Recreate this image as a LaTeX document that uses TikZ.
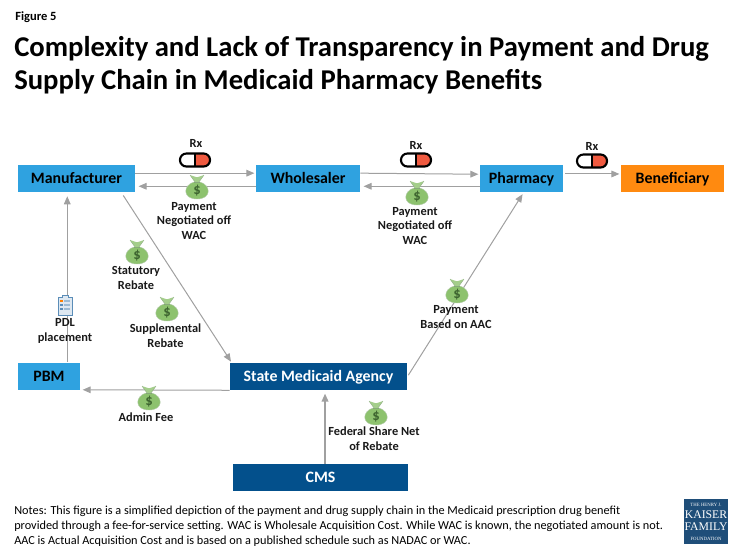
\documentclass[tikz,border=0pt]{standalone}
\usepackage{fontspec}
\setmainfont{Carlito}
\newfontfamily\logofont{Liberation Serif}
\usetikzlibrary{arrows.meta}
\definecolor{cyanbox}{HTML}{2FA2E0}
\definecolor{navybox}{HTML}{03508C}
\definecolor{orangebox}{HTML}{FF8A10}
\definecolor{linegray}{HTML}{A0A0A0}
\definecolor{baggreen}{HTML}{8DC26E}
\definecolor{bagdark}{HTML}{4E7F3C}
\definecolor{pillred}{HTML}{F05A40}
\definecolor{docblue}{HTML}{5B8DB8}
\definecolor{logonavy}{HTML}{1F4E79}
\tikzset{
  px/.style={x=0.75pt,y=-0.75pt},
  flowbox/.style n args={3}{rectangle,fill=#1,minimum width=#2*0.75pt,minimum height=#3*0.75pt,inner sep=0pt,anchor=center,text height=9pt,text depth=0.8pt,font=\fontsize{11.9}{13}\selectfont\bfseries},
  link/.style={draw=linegray,line width=0.75pt,-{Triangle[length=6pt,width=5pt]},shorten >=1pt},
  label text/.style={align=center,inner sep=0pt,font=\fontsize{9.3}{11.2}\selectfont\bfseries,text=black!90},
  pics/moneybag/.style={code={
    \fill[baggreen,draw=bagdark!40,line width=0.3pt] (0,13) .. controls (-15,13) and (-14,-1) .. (-3,-4) -- (3,-4) .. controls (14,-1) and (15,13) .. (0,13) -- cycle;
    \draw[bagdark!70,line width=0.7pt] (-3,-4) -- (3,-4);
    \fill[baggreen!80!white] (-2,-4) -- (-7,-11) -- (-1,-9) -- (1,-9) -- (7,-11) -- (2,-4) -- cycle;
    \draw[bagdark!60,line width=0.35pt] (-2,-4) -- (-7,-11) (2,-4) -- (7,-11);
    \node[inner sep=0pt,text=bagdark!80!black,font=\fontsize{11}{11}\selectfont\bfseries] at (0,5) {\$};
  }},
  pics/pill/.style={code={
    \fill[white,rounded corners=4.5pt] (-15,-6.5) rectangle (0,6.5);
    \fill[pillred,rounded corners=4.5pt] (-2,-6.5) rectangle (15,6.5);
    \fill[white] (-3,-5) rectangle (0,5);
    \draw[black,line width=1.6pt,rounded corners=4.8pt] (-15,-6.5) rectangle (15,6.5);
    \draw[black,line width=0.8pt] (0,-6.5) -- (0,6.5);
  }},
  pics/docicon/.style={code={
    \fill[docblue!20,draw=docblue,line width=0.7pt] (-7,-8) -- (-3,-8) -- (-3,-10) -- (3,-10) -- (3,-8) -- (7,-8) -- (7,10) -- (-7,10) -- cycle;
    \foreach \yy in {-4,0,4}{
      \fill[docblue] (-5,\yy-1) rectangle (-2,\yy+1);
      \fill[docblue!60] (-1,\yy-1) rectangle (5,\yy+1);
    }
    \fill[orange] (-5,-5) rectangle (-2,-3);
  }},
}
\begin{document}
\begin{tikzpicture}[px]
\useasboundingbox (0,0) rectangle (735,551);
% title
\node[anchor=west,inner sep=0pt,font=\fontsize{9.4}{11}\selectfont\bfseries] (figno) at (15,17) {Figure 5};
\node[anchor=north west,inner sep=0pt,align=left,font=\fontsize{21.5}{25}\selectfont\bfseries] (title) at (14,36) {Complexity and Lack of Transparency in Payment and Drug\\Supply Chain in Medicaid Pharmacy Benefits};
% boxes
\node[flowbox={cyanbox}{117}{27}] (man) at (76.5,178.5) {Manufacturer};
\node[flowbox={cyanbox}{104}{27}] (who) at (308,178.5) {Wholesaler};
\node[flowbox={cyanbox}{83}{27}] (pha) at (521.5,178.5) {Pharmacy};
\node[flowbox={orangebox}{103}{27}] (ben) at (672.5,178.5) {Beneficiary};
\node[flowbox={cyanbox}{62}{27}] (pbm) at (49,376) {PBM};
\node[flowbox={navybox}{177}{27},text=white] (sma) at (318.5,376.5) {State Medicaid Agency};
\node[flowbox={navybox}{175}{27},text=white] (cms) at (320.5,477.5) {CMS};
% connectors
\draw[link] ([yshift=4pt]man.east) -- ([yshift=4pt]who.west);
\draw[link] ([yshift=4.5pt]who.south west) -- ([yshift=4.5pt,xshift=1.5pt]man.south east);
\draw[link] ([yshift=4pt]who.east) -- ([yshift=3.2pt]pha.west);
\draw[link] ([yshift=4.5pt]pha.south west) -- ([yshift=4.5pt,xshift=1.5pt]who.south east);
\draw[link] ([xshift=1.5pt,yshift=3.4pt]pha.east) -- ([yshift=3.4pt]ben.west);
\draw[link] ([xshift=-9.75pt]pbm.north east) -- ([xshift=-51pt,yshift=-2pt]man.south east);
\draw[link] ([xshift=-9pt,yshift=-2.4pt]man.south east) -- ([xshift=1.5pt]sma.north west);
\draw[link] (sma.south west) -- ([xshift=0.8pt]pbm.south east);
\draw[link] ([xshift=0.8pt,yshift=1pt]sma.east) -- ([xshift=-30pt,yshift=-0.6pt]pha.south east);
\draw[link,line width=1.2pt] ([xshift=3.4pt]cms.north) -- ([xshift=4.9pt,yshift=-1.5pt]sma.south);
% icons
\pic at (195,160) {pill};
\pic at (416,160) {pill};
\pic at (592,161) {pill};
\pic at (197,186) {moneybag};
\pic at (417,192) {moneybag};
\pic at (137,251) {moneybag};
\pic at (167,308) {moneybag};
\pic at (149,397) {moneybag};
\pic at (457,290) {moneybag};
\pic at (376,412) {moneybag};
\pic at (65,305) {docicon};
% labels
\node[label text] (rx1) at (196,143) {Rx};
\node[label text] (rx2) at (416,145) {Rx};
\node[label text] (rx3) at (592,146) {Rx};
\node[label text] (l1) at (194,221) {Payment\\Negotiated off\\WAC};
\node[label text] (l2) at (415,226) {Payment\\Negotiated off\\WAC};
\node[label text] (l3) at (136,278) {Statutory\\Rebate};
\node[label text] (l4) at (165.5,335.5) {Supplemental\\Rebate};
\node[label text] (l5) at (65,331) {PDL\\placement};
\node[label text] (l6) at (146,417) {Admin Fee};
\node[label text] (l7) at (456,317) {Payment\\Based on AAC};
\node[label text] (l8) at (374,439) {Federal Share Net\\of Rebate};
% notes
\node[anchor=north west,inner sep=0pt,align=left,font=\fontsize{9.2}{11}\selectfont] (notes) at (14,506) {Notes: This figure is a simplified depiction of the payment and drug supply chain in the Medicaid prescription drug benefit\\provided through a fee-for-service setting. WAC is Wholesale Acquisition Cost. While WAC is known, the negotiated amount is not.\\AAC is Actual Acquisition Cost and is based on a published schedule such as NADAC or WAC.};
% logo
\node[rectangle,fill=logonavy,minimum width=44*0.75pt,minimum height=45*0.75pt,inner sep=0pt] (logo) at (706,521.5) {};
\node[text=white,inner sep=0pt,font=\logofont\fontsize{3.6}{3.6}\selectfont] (lg1) at (706,505) {THE HENRY J.};
\node[text=white,inner sep=0pt,font=\logofont\fontsize{8.8}{8.8}\selectfont] (lg2) at (706,514.5) {KAISER};
\node[text=white,inner sep=0pt,font=\logofont\fontsize{8.8}{8.8}\selectfont] (lg3) at (706,526.5) {FAMILY};
\node[text=white,inner sep=0pt,font=\logofont\fontsize{3.6}{3.6}\selectfont] (lg4) at (706,539) {FOUNDATION};
\end{tikzpicture}
\end{document}
